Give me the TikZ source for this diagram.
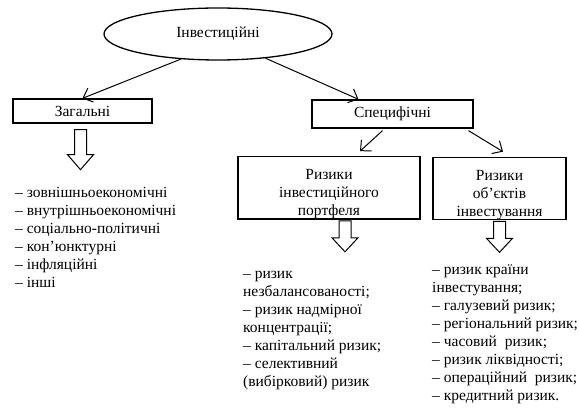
\documentclass[tikz,border=0pt]{standalone}
\usepackage{fontspec}
\setmainfont{Liberation Serif}
\usetikzlibrary{shapes.geometric,arrows.meta,calc}

\tikzset{
  box/.style={draw, line width=1.3pt, inner sep=0pt, align=center},
  link/.style={line width=1pt, -{Straight Barb[length=8pt,width=15pt,line width=1pt]}},
  hollow/.style={line width=1pt, line join=miter},
  risklist/.style={anchor=base west, align=left, inner sep=0pt},
  pics/hollowdown/.style 2 args={code={
    \draw[hollow] (-6,0) -- (-6,#1) -- (-13,#1) -- (0,{#1+#2}) -- (13,#1) -- (6,#1) -- (6,0) -- cycle;}}
}
\newcommand{\toppad}{\rule{0pt}{23pt}}

\begin{document}
\begin{tikzpicture}[x=1pt, y=-1pt, font=\fontsize{15.5}{18}\selectfont]
\useasboundingbox (0,0) rectangle (579,411);
	%Top
	\node[ellipse, draw, line width=1.3pt, minimum width=228pt, minimum height=52pt, inner sep=0pt] (inv) at (218,34) {Інвестиційні};

	%Boxes
	\node[box, minimum width=139pt, minimum height=24pt] (zag) at (82.5,111) {Загальні};
	\node[box, minimum width=161pt, minimum height=28pt] (spec) at (392.5,114) {Специфічні};
	\node[box, minimum width=182pt, minimum height=60pt] (port) at (329,188) {\toppad Ризики\\інвестиційного\\портфеля};
	\node[box, minimum width=133pt, minimum height=61pt] (obj) at (499.5,188.5) {\toppad Ризики\\об’єктів\\інвестування};

	%Arrows
	\draw[link] (inv.214) -- (zag.north);
	\draw[link] (inv.333) -- ([xshift=-34pt]spec.north);
	\draw[link] ([xshift=-10pt,yshift=-2pt]spec.south) -- ([xshift=31pt,yshift=5pt]port.north);
	\draw[link] ([xshift=76pt,yshift=-2pt]spec.south) -- ([xshift=3.5pt,yshift=5pt]obj.north);

	\pic at ($(zag.south)+(-2,6)$) {hollowdown={25}{15}};
	\pic at ($(port.south)+(16,1)$) {hollowdown={17}{14}};
	\pic at ($(obj.south)+(0,1)$) {hollowdown={17}{14}};

	%Lists (placed at the baseline of the last line)
	\node[risklist] (zaglist) at (15,288) {– зовнішньоекономічні\\– внутрішньоекономічні\\– соціально-політичні\\– кон’юнктурні\\– інфляційні\\– інші};
	\node[risklist] (portlist) at (243,387) {– ризик\\незбалансованості;\\– ризик надмірної\\концентрації;\\– капітальний ризик;\\– селективний\\(вибірковий) ризик};
	\node[risklist] (objlist) at (432,401) {– ризик країни\\інвестування;\\– галузевий ризик;\\– регіональний ризик;\\– часовий\ \ ризик;\\– ризик ліквідності;\\– операційний\ \ ризик;\\– кредитний ризик.};
\end{tikzpicture}
\end{document}
